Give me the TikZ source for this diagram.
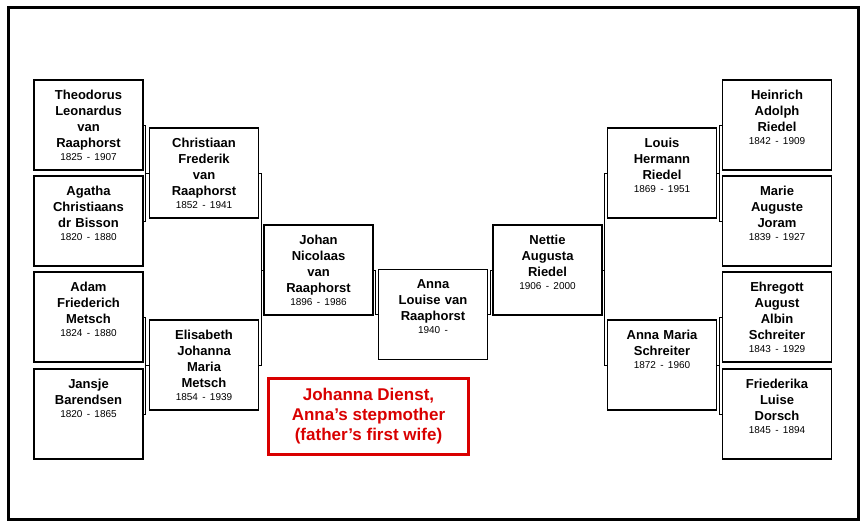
\documentclass[tikz,border=0pt]{standalone}
\usepackage{fontspec}
\setmainfont{Liberation Sans}
\usetikzlibrary{positioning}

\tikzset{
  person/.style={draw, line width=1.4pt, minimum width=109pt, minimum height=90pt, inner sep=0pt},
  who/.style={anchor=north, align=center, font=\fontsize{13}{16}\selectfont\bfseries, text width=105pt, label distance=-7pt},
  link/.style={line width=0.8pt}
}
\newcommand{\yrs}[1]{\\[-3pt]{\fontsize{10}{11}\selectfont\mdseries #1}}

\begin{document}
\begin{tikzpicture}[x=1pt,y=-1pt]
    % Frame
    \useasboundingbox (0,0) rectangle (866,524);
    \draw[line width=3pt] (8,8) rectangle (858,519);
    % Father's side
    \node[person, label={[who]north:Theodorus\\Leonardus\\van\\Raaphorst\yrs{1825 - 1907}}] (theo) at (88.5,125) {};
    \node[person, label={[who]north:Agatha\\Christiaans\\dr Bisson\yrs{1820 - 1880}}] (agatha) at (88.5,221) {};
    \node[person, label={[who]north:Adam\\Friederich\\Metsch\yrs{1824 - 1880}}] (adam) at (88.5,317) {};
    \node[person, label={[who]north:Jansje\\Barendsen\yrs{1820 - 1865}}] (jansje) at (88.5,414) {};
    \node[person, label={[who]north:Christiaan\\Frederik\\van\\Raaphorst\yrs{1852 - 1941}}] (chris) at (204,173) {};
    \node[person, label={[who]north:Elisabeth\\Johanna\\Maria\\Metsch\yrs{1854 - 1939}}] (elis) at (204,365) {};
    \node[person, label={[who]north:Johan\\Nicolaas\\van\\Raaphorst\yrs{1896 - 1986}}] (johan) at (318.5,270) {};
    % Anna
    \node[person, label={[who]north:Anna\\Louise van\\Raaphorst\yrs{1940 -}}] (anna) at (433,314.5) {};
    % Mother's side
    \node[person, label={[who]north:Nettie\\Augusta\\Riedel\yrs{1906 - 2000}}] (nettie) at (547.5,270) {};
    \node[person, label={[who]north:Louis\\Hermann\\Riedel\yrs{1869 - 1951}}] (louis) at (662,173) {};
    \node[person, label={[who]north:Anna Maria\\Schreiter\yrs{1872 - 1960}}] (annamaria) at (662,365) {};
    \node[person, label={[who]north:Heinrich\\Adolph\\Riedel\yrs{1842 - 1909}}] (heinrich) at (777,125) {};
    \node[person, label={[who]north:Marie\\Auguste\\Joram\yrs{1839 - 1927}}] (marie) at (777,221) {};
    \node[person, label={[who]north:Ehregott\\August\\Albin\\Schreiter\yrs{1843 - 1929}}] (ehregott) at (777,317) {};
    \node[person, label={[who]north:Friederika\\Luise\\Dorsch\yrs{1845 - 1894}}] (friederika) at (777,414) {};
    % Note
    \node[draw=red!85!black, line width=3.5pt, minimum width=200pt, minimum height=76pt, align=center,
          text=red!85!black, font=\fontsize{17}{20}\selectfont\bfseries] (note) at (368.5,416.5)
          {Johanna Dienst,\\Anna’s stepmother\\(father’s first wife)};
    % Brackets, father's side
    \foreach \a/\b/\c in {theo/agatha/chris, adam/jansje/elis, chris/elis/johan} {
      \draw[link] (\a.east) -- ([xshift=2pt]\a.east) -- ([xshift=2pt]\b.east) -- (\b.east);
      \draw[link] ([xshift=2pt]\a.east |- \c.west) -- (\c.west);
    }
    % Brackets, mother's side
    \foreach \a/\b/\c in {heinrich/marie/louis, ehregott/friederika/annamaria, louis/annamaria/nettie} {
      \draw[link] (\a.west) -- ([xshift=-2pt]\a.west) -- ([xshift=-2pt]\b.west) -- (\b.west);
      \draw[link] ([xshift=-2pt]\a.west |- \c.east) -- (\c.east);
    }
    % Parents to Anna
    \draw[link] (johan.east) -- ([xshift=2pt]johan.east) |- (anna.west);
    \draw[link] (nettie.west) -- ([xshift=-2pt]nettie.west) |- (anna.east);
\end{tikzpicture}
\end{document}
